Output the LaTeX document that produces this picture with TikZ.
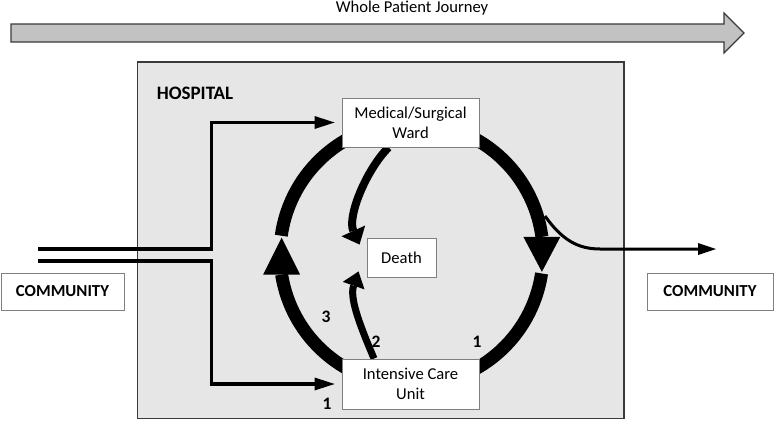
\documentclass[tikz,border=0pt]{standalone}
\usepackage{fontspec}
\setmainfont{Carlito}
\usetikzlibrary{arrows.meta}
\pgfdeclarelayer{background}
\pgfsetlayers{background,main}
\definecolor{hospfill}{HTML}{E6E6E6}
\definecolor{boxline}{HTML}{7F7F7F}
\definecolor{darkline}{HTML}{3A3A3A}
\definecolor{journeyfill}{HTML}{C2C2C2}
\tikzset{
  txt/.style={font=\fontsize{16.6}{20}\selectfont},
  unitbox/.style={txt, draw=boxline, line width=0.9pt, fill=white, align=center, inner sep=0pt},
  boldbox/.style={unitbox, font=\fontsize{16.8}{20}\selectfont\bfseries},
  lbl/.style={font=\fontsize{17.5}{20}\selectfont\bfseries, inner sep=0pt},
  ring/.style={line width=13pt, line cap=butt},
  flow/.style={line width=3.5pt},
  bigtip/.style={-{Triangle[length=#1,width=37pt,line width=0pt]}},
}
\begin{document}
\begin{tikzpicture}[x=1pt,y=-1pt]
\useasboundingbox (0,0) rectangle (774,423);
% whole patient journey arrow
\filldraw[fill=journeyfill, draw=darkline, line width=1.2pt, line join=miter]
  (11,24) -- (724,24) -- (724,13) -- (744,33) -- (724,53) -- (724,42) -- (11,42) -- cycle;
\node[txt, inner sep=0pt] (journey) at (412,8) {Whole Patient Journey};
% nodes
\coordinate (c) at (411.5,254);
\node[font=\fontsize{19}{20}\selectfont\bfseries, inner sep=0pt] (hosp) at (195,93) {HOSPITAL};
\node[unitbox, minimum width=137pt, minimum height=49pt] (ward) at (410.5,122.5) {Medical/Surgical\\Ward};
\node[unitbox, minimum width=69pt, minimum height=39pt] (death) at (401.5,257.5) {Death};
\node[unitbox, minimum width=137pt, minimum height=50pt] (icu) at (410.5,384) {Intensive Care\\Unit};
\node[boldbox, minimum width=123pt, minimum height=37pt] (commL) at (62.5,291.5) {COMMUNITY};
\node[boldbox, minimum width=126pt, minimum height=37pt] (commR) at (710,291.5) {COMMUNITY};
\begin{pgfonlayer}{background}
% hospital
\filldraw[fill=hospfill, draw=darkline, line width=1.1pt] (137.5,62) rectangle (624,418.5);
% ring: ICU -> Ward (left), Ward -> ICU (right)
\draw[ring, bigtip=37pt] (c) ++(90:131.5) arc[start angle=90, end angle=171, radius=131.5] -- ++(0,-37);
\draw[ring] (c) ++(188:131.5) arc[start angle=188, end angle=270, radius=131.5];
\draw[ring, bigtip=35pt] (c) ++(270:131.5) arc[start angle=270, end angle=352.5, radius=131.5] -- ++(0,35);
\draw[ring] (c) ++(8.5:131.5) arc[start angle=8.5, end angle=90, radius=131.5];
% exit to community
\coordinate (exS) at (545,216);
\coordinate (outE) at (716,249);
\draw[line width=3pt, -{Triangle[length=18pt,width=12pt,line width=0pt]}]
  (exS) .. controls (562,240) and (578,249) .. (600,249) -- (outE);
% ward -> death, icu -> death
\draw[line width=8pt, -{Triangle[length=15pt,width=26pt,line width=0pt]}]
  ([xshift=-22pt]ward.south) .. controls (366,170) and (347,217) .. ([xshift=-7pt,yshift=-7pt]death.north west);
\draw[line width=7pt, -{Triangle[length=15pt,width=23pt,line width=0pt]}]
  ([xshift=-36.5pt]icu.north) .. controls (362,330) and (349,299) .. ([xshift=-8pt,yshift=6pt]death.south west);
% admissions from community
\coordinate (inA) at (38,249);
\coordinate (inB) at (38,261);
\draw[flow, -{Triangle[length=20pt,width=13pt,line width=0pt]}]
  (inA) -| ([xshift=-130pt]ward.west) -- ([xshift=-7pt]ward.west);
\draw[flow, -{Triangle[length=20pt,width=13pt,line width=0pt]}]
  (inB) -| ([xshift=-130pt]icu.west) -- ([xshift=-7pt]icu.west);
\end{pgfonlayer}
% labels
\node[lbl] (l3) at (326,317) {3};
\node[lbl] (l2) at (376,342) {2};
\node[lbl] (l1r) at (477,342) {1};
\node[lbl] (l1b) at (327,404) {1};
\end{tikzpicture}
\end{document}
